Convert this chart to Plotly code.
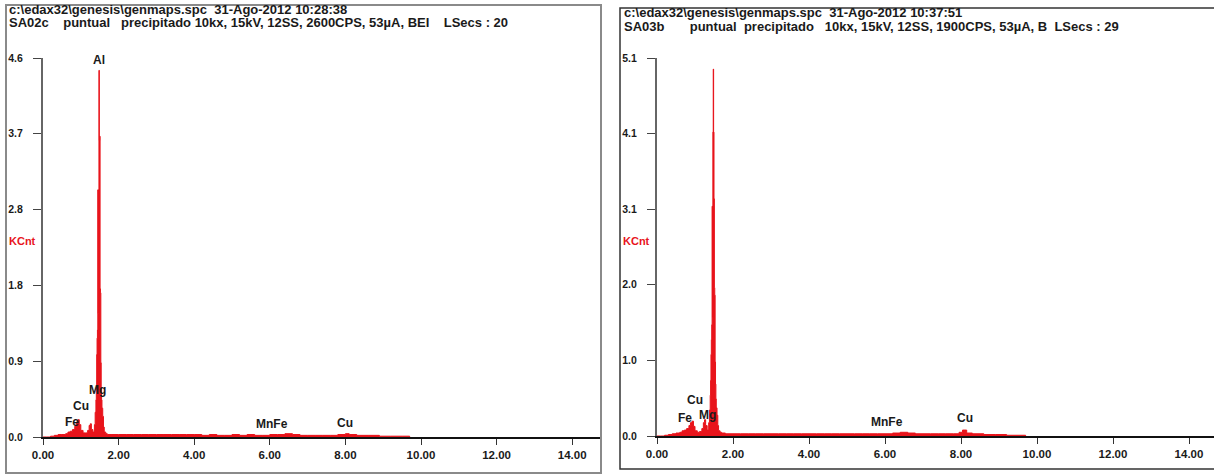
import plotly.graph_objects as go

W, H = 1214, 475

# ---------------- data ----------------
# Left spectrum (SA02c): energy keV, counts KCnt
left_energy = [0.00, 0.10, 0.20, 0.30, 0.40, 0.50, 0.60, 0.66, 0.72, 0.78, 0.84, 0.88,
               0.92, 0.96, 1.00, 1.06, 1.12, 1.18, 1.22, 1.25, 1.28, 1.32, 1.36, 1.38,
               1.40, 1.41, 1.42, 1.43, 1.44, 1.45, 1.46, 1.47, 1.48, 1.49, 1.50, 1.51,
               1.52, 1.53, 1.54, 1.55, 1.56, 1.58, 1.60, 1.62, 1.66, 1.70, 1.80, 2.00,
               2.20, 2.40, 2.60, 2.80, 3.00, 3.20, 3.40, 3.60, 3.80, 4.00, 4.20, 4.40,
               4.60, 4.80, 5.00, 5.20, 5.40, 5.60, 5.80, 6.00, 6.20, 6.40, 6.60, 6.80,
               7.00, 7.20, 7.40, 7.60, 7.80, 8.00, 8.10, 8.30, 8.60, 8.90, 9.20, 9.50, 9.70]
left_counts = [0.00, 0.00, 0.01, 0.02, 0.03, 0.03, 0.04, 0.06, 0.07, 0.09, 0.13, 0.18,
               0.21, 0.15, 0.08, 0.05, 0.05, 0.08, 0.14, 0.16, 0.09, 0.06, 0.15, 0.30,
               0.45, 0.60, 1.00, 1.20, 1.30, 3.00, 1.50, 3.00, 4.45, 3.60, 3.65, 1.80,
               1.75, 0.90, 0.60, 0.45, 0.35, 0.25, 0.12, 0.06, 0.04, 0.03, 0.03, 0.03,
               0.03, 0.03, 0.03, 0.03, 0.03, 0.03, 0.03, 0.03, 0.03, 0.03, 0.02, 0.03,
               0.02, 0.02, 0.03, 0.02, 0.03, 0.02, 0.02, 0.03, 0.03, 0.04, 0.03, 0.02,
               0.02, 0.02, 0.02, 0.02, 0.03, 0.04, 0.03, 0.02, 0.02, 0.01, 0.01, 0.01, 0.00]

# Right spectrum (SA03b)
right_energy = [0.00, 0.10, 0.20, 0.30, 0.40, 0.50, 0.60, 0.66, 0.72, 0.78, 0.84, 0.88,
                0.92, 0.96, 1.00, 1.06, 1.12, 1.18, 1.22, 1.25, 1.28, 1.32, 1.36, 1.38,
                1.40, 1.41, 1.42, 1.43, 1.44, 1.45, 1.46, 1.47, 1.48, 1.49, 1.50, 1.51,
                1.52, 1.53, 1.54, 1.55, 1.56, 1.58, 1.60, 1.62, 1.66, 1.70, 1.80, 2.00,
                2.20, 2.40, 2.60, 2.80, 3.00, 3.20, 3.40, 3.60, 3.80, 4.00, 4.20, 4.40,
                4.60, 4.80, 5.00, 5.20, 5.40, 5.60, 5.80, 6.00, 6.20, 6.40, 6.60, 6.80,
                7.00, 7.20, 7.40, 7.60, 7.80, 7.95, 8.04, 8.15, 8.30, 8.60, 8.90, 9.20,
                9.50, 9.70]
right_counts = [0.00, 0.00, 0.01, 0.02, 0.03, 0.04, 0.05, 0.07, 0.08, 0.10, 0.14, 0.18,
                0.20, 0.13, 0.07, 0.05, 0.06, 0.10, 0.18, 0.22, 0.14, 0.08, 0.18, 0.35,
                0.55, 0.75, 1.10, 1.30, 1.50, 3.10, 1.60, 4.10, 4.95, 4.10, 3.20, 2.00,
                1.90, 1.00, 0.70, 0.50, 0.38, 0.28, 0.14, 0.07, 0.05, 0.04, 0.03, 0.03,
                0.03, 0.03, 0.03, 0.03, 0.03, 0.03, 0.03, 0.03, 0.03, 0.03, 0.03, 0.03,
                0.03, 0.03, 0.03, 0.03, 0.03, 0.03, 0.03, 0.03, 0.04, 0.05, 0.04, 0.03,
                0.03, 0.03, 0.03, 0.03, 0.03, 0.05, 0.08, 0.04, 0.03, 0.02, 0.02, 0.01,
                0.01, 0.00]

# tick labels
x_tickvals = [0, 2, 4, 6, 8, 10, 12, 14]
x_ticktext = ["0.00", "2.00", "4.00", "6.00", "8.00", "10.00", "12.00", "14.00"]
left_ytickvals = [0, 0.92, 1.84, 2.76, 3.68, 4.6]
left_yticktext = ["0.0", "0.9", "1.8", "2.8", "3.7", "4.6"]
right_ytickvals = [0, 1.02, 2.04, 3.06, 4.08, 5.1]
right_yticktext = ["0.0", "1.0", "2.0", "3.1", "4.1", "5.1"]

# peak labels: (text, energy keV, KCnt)
left_peaks = [("Al", 1.48, 4.58), ("Mg", 1.43, 0.57), ("Cu", 1.00, 0.38), ("Fe", 0.77, 0.18),
              ("MnFe", 6.06, 0.16), ("Cu", 7.99, 0.17)]
right_peaks = [("Al", 1.47, 5.11), ("Cu", 1.00, 0.49), ("Fe", 0.74, 0.24), ("Mg", 1.34, 0.28),
               ("MnFe", 6.05, 0.19), ("Cu", 8.10, 0.24)]

left_header = ["c:\\edax32\\genesis\\genmaps.spc  31-Ago-2012 10:28:38",
               "SA02c    puntual   precipitado 10kx, 15kV, 12SS, 2600CPS, 53\u00b5A, BEI    LSecs : 20"]
right_header = ["c:\\edax32\\genesis\\genmaps.spc  31-Ago-2012 10:37:51",
                "SA03b       puntual  precipitado   10kx, 15kV, 12SS, 1900CPS, 53\u00b5A, B  LSecs : 29"]

# ---------------- layout helpers ----------------
def pxx(x):
    return x / W

def pxy(y):
    return 1 - y / H

RED = "#e8141b"
FONT = "Liberation Sans"
TXT = "#1a1a1a"

fig = go.Figure()
fig.add_trace(go.Scatter(x=left_energy, y=left_counts, mode="lines", fill="tozeroy",
                         line=dict(color=RED, width=1, shape="hv"), fillcolor=RED,
                         xaxis="x", yaxis="y", showlegend=False, hoverinfo="skip"))
fig.add_trace(go.Scatter(x=right_energy, y=right_counts, mode="lines", fill="tozeroy",
                         line=dict(color=RED, width=1, shape="hv"), fillcolor=RED,
                         xaxis="x2", yaxis="y2", showlegend=False, hoverinfo="skip"))

common_x = dict(showline=True, linecolor="#111", linewidth=2, ticks="outside", ticklen=6,
                tickcolor="#333", tickwidth=1, showgrid=False, zeroline=False, automargin=False,
                tickvals=x_tickvals, ticktext=x_ticktext,
                tickfont=dict(family=FONT, size=11.5, color=TXT, weight="bold"))
common_y = dict(showline=True, linecolor="#666", linewidth=2, ticks="outside", ticklen=8,
                tickcolor="#444", tickwidth=1, showgrid=False, zeroline=False, automargin=False,
                tickfont=dict(family=FONT, size=10.5, color=TXT, weight="bold"),
                ticklabelstandoff=8)

L_x0, L_x1 = 43, 600
R_x0, R_x1 = 657, 1214
fig.update_layout(
    template="none",
    width=W, height=H, margin=dict(l=0, r=0, t=0, b=0, pad=0, autoexpand=False),
    paper_bgcolor="white", plot_bgcolor="white",
    xaxis=dict(domain=[pxx(L_x0), pxx(L_x1)], range=[0, (L_x1 - L_x0) / 37.8],
               anchor="y", **common_x),
    yaxis=dict(domain=[pxy(437), pxy(58)], range=[0, 4.6], anchor="x",
               tickvals=left_ytickvals, ticktext=left_yticktext, **common_y),
    xaxis2=dict(domain=[pxx(R_x0), pxx(R_x1)], range=[0, (R_x1 - R_x0) / 38.0],
                anchor="y2", **common_x),
    yaxis2=dict(domain=[pxy(436), pxy(58)], range=[0, 5.1], anchor="x2",
                tickvals=right_ytickvals, ticktext=right_yticktext, **common_y),
)

shapes = [
    dict(type="rect", xref="paper", yref="paper", x0=pxx(6), x1=pxx(601), y0=pxy(473), y1=pxy(5),
         line=dict(color="#8a8a8a", width=2)),
    dict(type="rect", xref="paper", yref="paper", x0=pxx(620), x1=pxx(1220), y0=pxy(469), y1=pxy(8),
         line=dict(color="#333", width=1.5)),
]
fig.update_layout(shapes=shapes)

ann = []
for i, line in enumerate(left_header):
    ann.append(dict(text=line, xref="paper", yref="paper", x=pxx(7), y=pxy(10 + 13 * i),
                    xanchor="left", yanchor="middle", showarrow=False,
                    font=dict(family=FONT, size=13, color=TXT, weight="bold")))
for i, line in enumerate(right_header):
    ann.append(dict(text=line, xref="paper", yref="paper", x=pxx(622), y=pxy(12 + 14 * i),
                    xanchor="left", yanchor="middle", showarrow=False,
                    font=dict(family=FONT, size=13, color=TXT, weight="bold")))
for xx in (7, 621):
    ann.append(dict(text="KCnt", xref="paper", yref="paper", x=pxx(xx), y=pxy(241),
                    xanchor="left", yanchor="middle", showarrow=False,
                    font=dict(family=FONT, size=11, color=RED, weight="bold")))
for t, e, v in left_peaks:
    ann.append(dict(text=t, xref="x", yref="y", x=e, y=v, showarrow=False,
                    xanchor="center", yanchor="middle",
                    font=dict(family=FONT, size=12, color=TXT, weight="bold")))
for t, e, v in right_peaks:
    ann.append(dict(text=t, xref="x2", yref="y2", x=e, y=v, showarrow=False,
                    xanchor="center", yanchor="middle",
                    font=dict(family=FONT, size=12, color=TXT, weight="bold")))
fig.update_layout(annotations=ann)

fig.write_html("out.html", config={"displayModeBar": False},
               post_script="document.body.style.margin='0px';")
